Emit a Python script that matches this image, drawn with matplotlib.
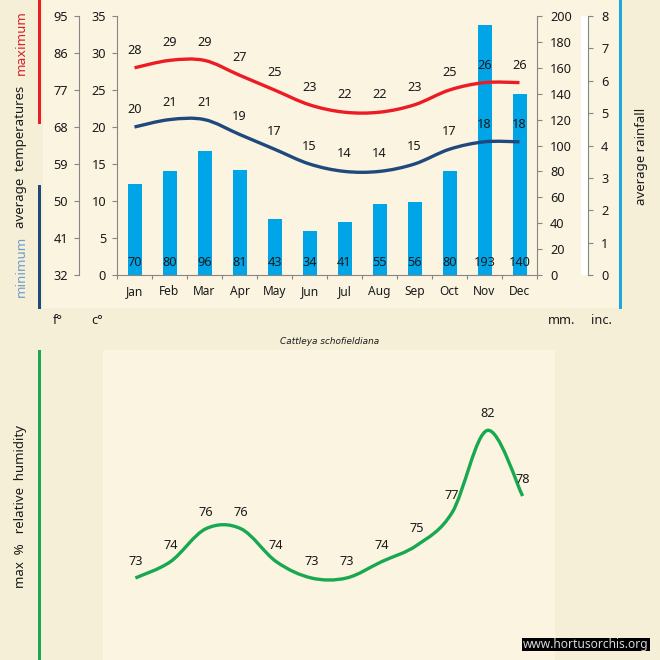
import matplotlib
matplotlib.use("Agg")
import matplotlib.pyplot as plt
from matplotlib.path import Path
from matplotlib.patches import PathPatch, Rectangle

plt.rcParams['font.family'] = ['Noto Sans', 'DejaVu Sans']

months = ["Jan", "Feb", "Mar", "Apr", "May", "Jun", "Jul", "Aug", "Sep", "Oct", "Nov", "Dec"]
temp_max = [28, 29, 29, 27, 25, 23, 22, 22, 23, 25, 26, 26]
temp_min = [20, 21, 21, 19, 17, 15, 14, 14, 15, 17, 18, 18]
rain_mm = [70, 80, 96, 81, 43, 34, 41, 55, 56, 80, 193, 140]
humidity = [73, 74, 76, 76, 74, 73, 73, 74, 75, 77, 82, 78]
c_ticks = [0, 5, 10, 15, 20, 25, 30, 35]
f_ticks = [32, 41, 50, 59, 68, 77, 86, 95]
mm_ticks = list(range(0, 201, 20))
in_ticks = list(range(0, 9))

W = H = 660
OUTER = "#F5EFD8"
PANEL = "#FBF4E1"
GREY = "#868686"
TXT = "#1a1a1a"
RED = "#EC1C24"
NAVY = "#1F497D"
CYAN = "#00A5E8"
GREEN = "#17A850"
FS = 9.2


def box(x0, y0, x1, y1):
    return [x0 / W, 1 - y1 / H, (x1 - x0) / W, (y1 - y0) / H]


def px(v):
    return v * 0.72


def smooth(ax, ys, color):
    xs = list(range(len(ys)))
    verts = [(xs[0], ys[0])]
    codes = [Path.MOVETO]
    n = len(ys)
    for i in range(n - 1):
        a, b = max(i - 1, 0), min(i + 2, n - 1)
        verts.append((xs[i] + (xs[i + 1] - xs[a]) / 6, ys[i] + (ys[i + 1] - ys[a]) / 6))
        verts.append((xs[i + 1] - (xs[b] - xs[i]) / 6, ys[i + 1] - (ys[b] - ys[i]) / 6))
        verts.append((xs[i + 1], ys[i + 1]))
        codes += [Path.CURVE4] * 3
    ax.add_patch(PathPatch(Path(verts, codes), fill=False, ec=color, lw=2.4,
                           capstyle='butt', joinstyle='round', zorder=4))


def labels(ax, ys, off):
    for i, y in enumerate(ys):
        ax.annotate(str(y), (i, y), xytext=(0, px(off)),
                    textcoords='offset points', ha='center', va='center',
                    fontsize=FS, color=TXT, zorder=6, clip_on=False)


fig = plt.figure(figsize=(6.6, 6.6), dpi=100, facecolor=OUTER)
fig.patches.append(Rectangle((43 / W, 1 - 308 / H), 575 / W, 308 / H, transform=fig.transFigure,
                             fc=PANEL, ec='none', zorder=-5))
fig.patches.append(Rectangle((103 / W, 0), 452 / W, 310 / H, transform=fig.transFigure,
                             fc=PANEL, ec='none', zorder=-5))

for x0, y0, x1, y1, c in [(38, 0, 41, 124, RED), (38, 185, 41, 309, NAVY),
                          (619, 0, 622, 309, "#1CA8DE"), (38, 350, 41, 660, GREEN),
                          (581, 16, 588, 275, "#FFFFFF")]:
    fig.patches.append(Rectangle((x0 / W, 1 - y1 / H), (x1 - x0) / W, (y1 - y0) / H,
                                 transform=fig.transFigure, fc=c, ec='none', zorder=-4))

pos = box(117, 16, 537, 275)

# rainfall axis (mm), drawn beneath the temperatures
ax_r = fig.add_axes(pos, zorder=1)
ax_r.set_facecolor('none')
ax_r.bar(range(12), rain_mm, width=0.4, color=CYAN, zorder=2)
ax_r.set_xlim(-0.5, 11.5)
ax_r.set_ylim(0, 200)
ax_r.yaxis.tick_right()
ax_r.set_yticks(mm_ticks)
ax_r.tick_params(axis='y', length=px(5), width=0.8, color=GREY, labelsize=FS, labelcolor=TXT, pad=px(8))
ax_r.set_xticks([])
for s in ['top', 'left', 'bottom']:
    ax_r.spines[s].set_visible(False)
ax_r.spines['right'].set_color(GREY)

# temperature axis (c)
ax = fig.add_axes(pos, zorder=2)
ax.set_facecolor('none')
ax.set_xlim(-0.5, 11.5)
ax.set_ylim(0, 35)
smooth(ax, temp_max, RED)
smooth(ax, temp_min, NAVY)
labels(ax, temp_max, 17.5)
labels(ax, temp_min, 17.5)
ax.set_yticks(c_ticks)
ax.tick_params(axis='y', length=px(5), width=0.8, color=GREY, labelsize=FS, labelcolor=TXT, pad=px(6))
ax.set_xticks(range(12))
ax.set_xticklabels(months)
ax.set_xticks([i - 0.5 for i in range(13)], minor=True)
ax.tick_params(axis='x', which='major', length=0, labelsize=FS - 0.6, labelcolor=TXT, pad=px(10))
ax.tick_params(axis='x', which='minor', length=px(4), width=0.8, color=GREY)
for s in ['top', 'right']:
    ax.spines[s].set_visible(False)
for s in ['left', 'bottom']:
    ax.spines[s].set_color(GREY)
for i, v in enumerate(rain_mm):
    ax.annotate(str(v), (i, 0), xytext=(0, px(13)), textcoords='offset points',
                ha='center', va='center', fontsize=FS, color=TXT, zorder=6)

# fahrenheit axis
ax_f = fig.add_axes(pos, zorder=0)
ax_f.set_facecolor('none')
ax_f.set_ylim(32, 95)
ax_f.set_yticks(f_ticks)
ax_f.set_xticks([])
ax_f.tick_params(axis='y', length=px(5), width=0.8, color=GREY, labelsize=FS, labelcolor=TXT, pad=px(6))
for s in ['top', 'right', 'bottom']:
    ax_f.spines[s].set_visible(False)
ax_f.spines['left'].set_position(('outward', px(38)))
ax_f.spines['left'].set_color(GREY)

# inches axis
ax_i = fig.add_axes(pos, zorder=0)
ax_i.set_facecolor('none')
ax_i.set_ylim(0, 8)
ax_i.yaxis.tick_right()
ax_i.set_yticks(in_ticks)
ax_i.set_xticks([])
ax_i.tick_params(axis='y', length=px(5), width=0.8, color=GREY, labelsize=FS, labelcolor=TXT, pad=px(8))
for s in ['top', 'left', 'bottom']:
    ax_i.spines[s].set_visible(False)
ax_i.spines['right'].set_position(('outward', px(51)))
ax_i.spines['right'].set_color(GREY)

# humidity panel
ax_h = fig.add_axes(box(103, 350, 555, 660), zorder=1)
ax_h.set_facecolor('none')
ax_h.set_xlim(-0.92, 11.92)
ax_h.set_ylim(68, 86.9)
ax_h.axis('off')
smooth(ax_h, humidity, GREEN)
labels(ax_h, humidity, 16.5)


def ftext(x, y, s, **kw):
    kw.setdefault('fontsize', FS)
    kw.setdefault('color', TXT)
    kw.setdefault('ha', 'center')
    kw.setdefault('va', 'center')
    return fig.text(x / W, 1 - y / H, s, **kw)


ftext(58, 321, "f°")
ftext(97, 321, "c°")
ftext(562, 321, "mm.")
ftext(601, 321, "inc.")
ftext(330, 342, "Cattleya schofieldiana", fontsize=6.4, style='italic', family='DejaVu Sans')
ftext(21, 266, "minimum", rotation=90, color="#6F9BD1", fontsize=9.3, family='DejaVu Sans')
ftext(21, 157, "average  temperatures", rotation=90, fontsize=FS + 0.3)
ftext(21, 43, "maximum", rotation=90, color="#D8232A", fontsize=9.3, family='DejaVu Sans')
ftext(641, 156, "average rainfall", rotation=90, fontsize=FS + 0.3)
ftext(21, 507, "max  %   relative  humidity", rotation=90, fontsize=FS + 0.3)
fig.patches.append(Rectangle((522 / W, 1 - 651 / H), 128 / W, 13 / H, transform=fig.transFigure,
                             fc="#000000", ec='none', zorder=5))
ftext(586, 644.5, "www.hortusorchis.org", color="#D8D8D8", fontsize=8.6, zorder=6)

fig.savefig("out.png", dpi=100, facecolor=OUTER)
